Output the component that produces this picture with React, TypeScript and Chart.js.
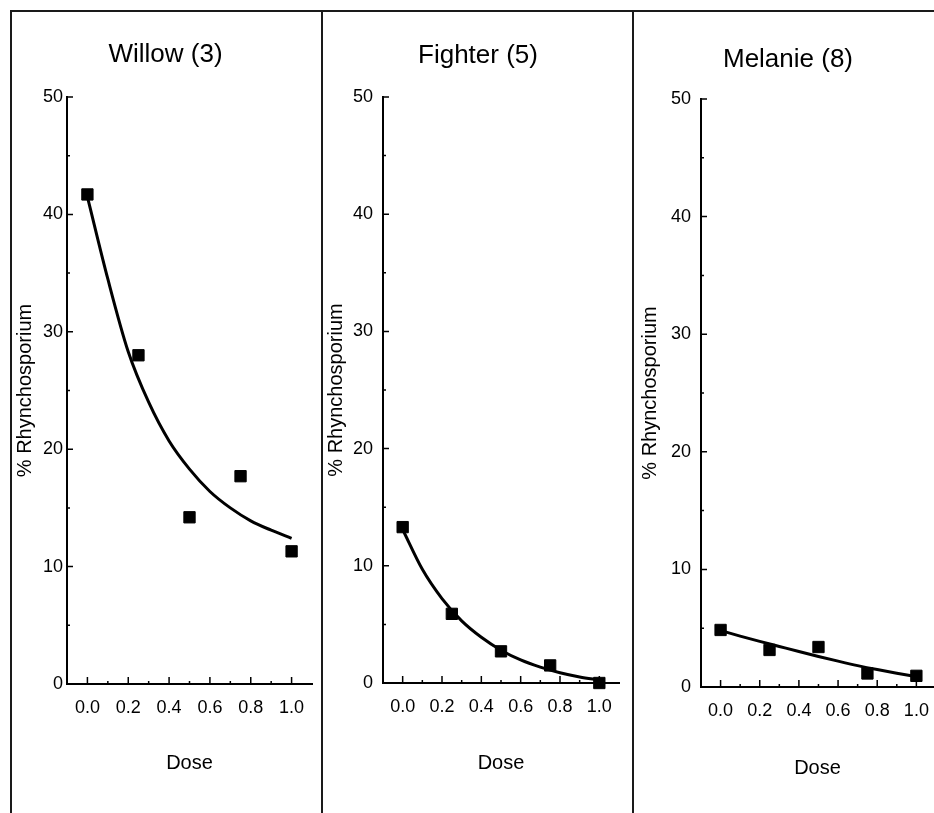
import React, { useEffect, useRef } from 'react';
import { Chart, registerables } from 'chart.js';

Chart.register(...registerables);

// ---------- data ----------
const panelTitles = ['Willow (3)', 'Fighter (5)', 'Melanie (8)'];
const doses = [0, 0.25, 0.5, 0.75, 1.0];
const willowObserved = [41.7, 28.0, 14.2, 17.7, 11.3];
const fighterObserved = [13.3, 5.9, 2.7, 1.5, 0.0];
const melanieObserved = [4.85, 3.15, 3.4, 1.15, 0.95];

const curveDoses = [0, 0.1, 0.2, 0.3, 0.4, 0.5, 0.6, 0.7, 0.8, 0.9, 1.0];
const willowFitted = [41.5, 34.5, 28.3, 24.0, 20.7, 18.3, 16.4, 15.0, 13.9, 13.1, 12.4];
const fighterFitted = [13.1, 9.7, 7.2, 5.3, 3.9, 2.8, 1.97, 1.36, 0.88, 0.52, 0.25];
const melanieFitted = [4.8, 4.33, 3.88, 3.45, 3.02, 2.6, 2.2, 1.82, 1.48, 1.17, 0.88];

const xTickValues = [0, 0.2, 0.4, 0.6, 0.8, 1.0];
const xMinorTicks = [0.1, 0.3, 0.5, 0.7, 0.9];
const yTickValues = [0, 10, 20, 30, 40, 50];
const yMinorTicks = [5, 15, 25, 35, 45];
const yAxisTitle = '% Rhynchosporium';
const xAxisTitle = 'Dose';

const observedSeries = [willowObserved, fighterObserved, melanieObserved];
const fittedSeries = [willowFitted, fighterFitted, melanieFitted];

// ---------- layout (styles / geometry only) ----------
const FONT = "'Liberation Sans', Arial, Helvetica, sans-serif";
const CANVAS_TOP = 12;
const CANVAS_H = 801;
const panelLayout = [
  { left: 11, width: 310, padLeft: 6, yAxisWidth: 50, xAxisHeight: 129, padRight: 7, titleTop: 27.4, titleBottom: 26.4, yTitlePad: -4, xTitlePad: 38, yTickPad: 4, xMax: 1.1 },
  { left: 324, width: 308, padLeft: 13, yAxisWidth: 46, xAxisHeight: 130, padRight: 13, titleTop: 27.9, titleBottom: 25.9, yTitlePad: -13, xTitlePad: 37.5, yTickPad: 10, xMax: 1.1 },
  { left: 635, width: 320, padLeft: 7, yAxisWidth: 59, xAxisHeight: 126, padRight: 21, titleTop: 31.9, titleBottom: 23.9, yTitlePad: -4, xTitlePad: 33, yTickPad: 10, xMax: 1.09 },
];

const innerTicks = {
  id: 'innerTicks',
  beforeDatasetsDraw(chart: any) {
    const { ctx, chartArea, scales } = chart;
    const x = scales.x;
    const y = scales.y;
    ctx.save();
    ctx.strokeStyle = '#000';
    ctx.lineWidth = 1.5;
    ctx.beginPath();
    for (const v of xTickValues) {
      const px = x.getPixelForValue(v);
      ctx.moveTo(px, chartArea.bottom);
      ctx.lineTo(px, chartArea.bottom - 7);
    }
    for (const v of xMinorTicks) {
      const px = x.getPixelForValue(v);
      ctx.moveTo(px, chartArea.bottom);
      ctx.lineTo(px, chartArea.bottom - 3);
    }
    for (const v of yTickValues) {
      if (v === 0) continue;
      const py = y.getPixelForValue(v);
      ctx.moveTo(chartArea.left, py);
      ctx.lineTo(chartArea.left + 6, py);
    }
    for (const v of yMinorTicks) {
      const py = y.getPixelForValue(v);
      ctx.moveTo(chartArea.left, py);
      ctx.lineTo(chartArea.left + 3, py);
    }
    ctx.stroke();
    ctx.restore();
  },
};

function makeConfig(i: number): any {
  const L = panelLayout[i];
  return {
    type: 'scatter',
    data: {
      datasets: [
        {
          label: 'observed',
          data: doses.map((d, k) => ({ x: d, y: observedSeries[i][k] })),
          pointStyle: 'rect',
          pointRadius: 8,
          pointBackgroundColor: '#000',
          pointBorderColor: '#000',
          pointBorderWidth: 1,
          showLine: false,
          clip: false,
        },
        {
          label: 'fitted',
          data: curveDoses.map((d, k) => ({ x: d, y: fittedSeries[i][k] })),
          showLine: true,
          pointRadius: 0,
          borderColor: '#000',
          borderWidth: 3,
          cubicInterpolationMode: 'monotone',
          clip: false,
        },
      ],
    },
    options: {
      animation: false,
      responsive: false,
      devicePixelRatio: 1,
      font: { family: FONT },
      layout: { padding: { left: L.padLeft, right: L.padRight, top: 0, bottom: 0 } },
      plugins: {
        legend: { display: false },
        tooltip: { enabled: false },
        title: {
          display: true,
          text: panelTitles[i],
          color: '#000',
          font: { family: FONT, size: 26, weight: 'normal' },
          padding: { top: L.titleTop, bottom: L.titleBottom },
        },
      },
      scales: {
        x: {
          type: 'linear',
          min: -0.1,
          max: L.xMax,
          afterBuildTicks: (axis: any) => {
            axis.ticks = xTickValues.map((v) => ({ value: v }));
          },
          afterFit: (scale: any) => {
            scale.height = L.xAxisHeight;
          },
          grid: { display: false, drawTicks: false },
          border: { display: true, color: '#000', width: 2 },
          ticks: {
            color: '#000',
            font: { family: FONT, size: 18 },
            padding: 13,
            maxRotation: 0,
            autoSkip: false,
            callback: (v: any) => Number(v).toFixed(1),
          },
          title: {
            display: true,
            text: xAxisTitle,
            color: '#000',
            font: { family: FONT, size: 20 },
            padding: { top: 0, bottom: L.xTitlePad },
          },
        },
        y: {
          type: 'linear',
          min: 0,
          max: 50,
          afterBuildTicks: (axis: any) => {
            axis.ticks = yTickValues.map((v) => ({ value: v }));
          },
          afterFit: (scale: any) => {
            scale.width = L.yAxisWidth;
          },
          grid: { display: false, drawTicks: false },
          border: { display: true, color: '#000', width: 2 },
          ticks: {
            color: '#000',
            font: { family: FONT, size: 18 },
            padding: L.yTickPad,
            autoSkip: false,
            callback: (v: any) => String(v),
          },
          title: {
            display: true,
            text: yAxisTitle,
            color: '#000',
            font: { family: FONT, size: 20 },
            padding: { top: L.yTitlePad, bottom: 0 },
          },
        },
      },
    },
    plugins: [innerTicks],
  };
}

export default function App() {
  const refs = [useRef<HTMLCanvasElement>(null), useRef<HTMLCanvasElement>(null), useRef<HTMLCanvasElement>(null)];

  useEffect(() => {
    const charts = refs.map((r, i) => new Chart(r.current as HTMLCanvasElement, makeConfig(i)));
    return () => charts.forEach((c) => c.destroy());
  }, []);

  const line = (style: React.CSSProperties) => (
    <div style={{ position: 'absolute', background: '#1a1a1a', pointerEvents: 'none', ...style }} />
  );

  return (
    <div style={{ position: 'absolute', left: 0, top: 0, width: 934, height: 813, background: '#fff', overflow: 'hidden' }}>
      {panelLayout.map((L, i) => (
        <canvas
          key={i}
          ref={refs[i]}
          width={L.width}
          height={CANVAS_H}
          style={{ position: 'absolute', left: L.left, top: CANVAS_TOP, width: L.width, height: CANVAS_H }}
        />
      ))}
      {line({ left: 10, top: 10, width: 924, height: 2 })}
      {line({ left: 10, top: 10, width: 2, height: 803 })}
      {line({ left: 321, top: 10, width: 2, height: 803 })}
      {line({ left: 632, top: 10, width: 2, height: 803 })}
    </div>
  );
}
